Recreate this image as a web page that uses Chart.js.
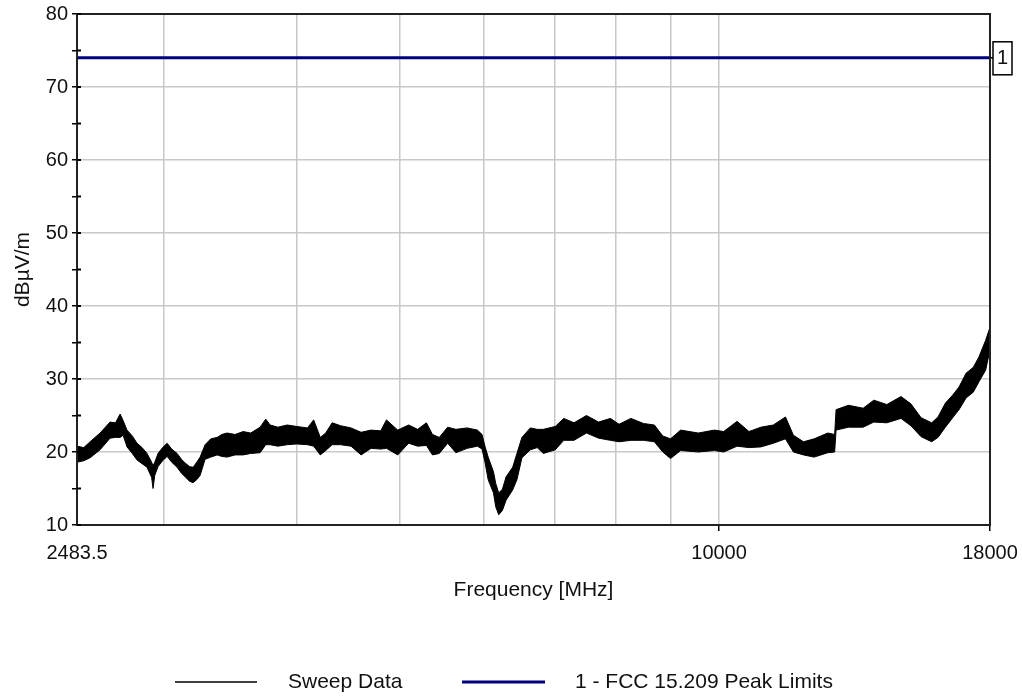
<!DOCTYPE html>
<html>
<head>
<meta charset="utf-8">
<script src="https://cdn.jsdelivr.net/npm/chart.js@4.4.1/dist/chart.umd.min.js"></script>
<style>
  html, body { margin: 0; padding: 0; background: #fff; }
  #wrap { width: 1022px; height: 696px; }
</style>
</head>
<body>
<div id="wrap"><canvas id="chart" width="1022" height="696"></canvas></div>
<script>
// Sweep data: frequency (MHz), top and bottom of the noise band (dBuV/m)
const sweepFreq = [
  2483.5, 2520, 2555, 2611, 2668, 2700, 2727, 2745, 2768, 2800,
  2829, 2860, 2891, 2920, 2929, 2940, 2961, 2990, 3020, 3050,
  3086, 3115, 3140, 3170, 3195, 3220, 3244, 3279, 3320, 3366,
  3400, 3439, 3500, 3561, 3620, 3695, 3740, 3776, 3840, 3918,
  4000, 4095, 4150, 4210, 4260, 4320, 4400, 4500, 4600, 4700,
  4800, 4860, 4980, 5100, 5200, 5300, 5370, 5450, 5550, 5650,
  5790, 5920, 5980, 6020, 6060, 6130, 6160, 6200, 6250, 6300,
  6390, 6450, 6520, 6640, 6740, 6830, 7010, 7140, 7300, 7500,
  7700, 7900, 8050, 8260, 8490, 8690, 8850, 9000, 9200, 9560,
  9900, 10100, 10400, 10670, 10950, 11250, 11550, 11750, 12010, 12290,
  12660, 12850, 12890, 13240, 13670, 13990, 14390, 14840, 15160, 15500,
  15860, 16080, 16340, 16600, 16830, 17090, 17360, 17570, 17830, 18000
];
const sweepHigh = [
  20.8, 20.6, 21.4, 22.6, 24.1, 24.0, 25.2, 24.3, 23.0, 22.2,
  21.2, 20.6, 19.8, 18.6, 18.1, 18.6, 19.8, 20.6, 21.2, 20.4,
  19.8, 19.0, 18.5, 18.0, 17.9, 18.6, 19.3, 21.0, 21.8, 22.0,
  22.4, 22.6, 22.4, 22.8, 22.6, 23.4, 24.5, 23.7, 23.4, 23.7,
  23.5, 23.3, 24.4, 22.0, 22.6, 24.0, 23.6, 23.3, 22.7, 23.0,
  22.9, 24.4, 23.0, 23.7, 23.1, 24.0, 22.4, 22.0, 23.4, 23.1,
  23.3, 23.0, 22.4, 20.7, 19.3, 17.3, 15.7, 14.4, 14.9, 16.6,
  17.9, 19.8, 22.0, 23.3, 23.1, 23.1, 23.5, 24.6, 24.0, 25.0,
  24.1, 24.6, 23.8, 24.6, 23.9, 23.7, 22.2, 21.8, 23.0, 22.6,
  23.0, 22.8, 24.2, 22.8, 23.4, 23.7, 24.8, 22.3, 21.4, 21.8,
  22.6, 22.4, 25.8, 26.4, 26.0, 27.1, 26.5, 27.6, 26.6, 24.7,
  24.0, 24.8, 26.7, 27.8, 28.9, 30.8, 31.6, 33.0, 35.3, 37.1
];
const sweepLow = [
  18.6, 18.8, 19.2, 20.3, 21.9, 22.0, 22.0, 22.3, 20.7, 19.8,
  18.9, 18.4, 17.9, 16.5, 15.0, 16.8, 18.0, 18.8, 19.4, 18.6,
  17.9, 17.1, 16.6, 16.0, 15.8, 16.2, 16.8, 19.0, 19.3, 19.6,
  19.4, 19.3, 19.6, 19.6, 19.8, 19.9, 21.0, 21.0, 20.8, 21.0,
  21.1, 21.0, 20.8, 19.6, 20.2, 21.0, 21.0, 20.8, 19.6, 20.5,
  20.4, 20.5, 19.6, 21.2, 20.8, 20.9, 19.6, 19.8, 21.2, 19.9,
  20.5, 20.8, 20.4, 18.5, 16.2, 14.4, 12.5, 11.4, 12.0, 13.4,
  14.8, 16.2, 19.2, 20.3, 20.6, 19.8, 20.3, 21.6, 21.6, 22.6,
  21.9, 21.6, 21.4, 21.6, 21.6, 21.4, 20.0, 19.1, 20.2, 20.0,
  20.2, 20.0, 20.8, 20.6, 20.7, 21.2, 21.8, 20.0, 19.6, 19.3,
  19.9, 20.0, 23.0, 23.4, 23.4, 24.1, 24.0, 24.6, 23.6, 22.1,
  21.4, 22.0, 23.4, 24.7, 25.8, 27.4, 28.2, 29.6, 31.2, 34.0
];

// FCC 15.209 peak limit
const limitFreq = [2483.5, 18000];
const limitLevel = [74, 74];

// axis ticks
const xTickValues = [2483.5, 3000, 4000, 5000, 6000, 7000, 8000, 9000, 10000, 18000];
const xTickLabels = ['2483.5', '', '', '', '', '', '', '', '10000', '18000'];
const yMin = 10, yMax = 80, yStep = 5, yLabelStep = 10;

const FONT = '"Liberation Sans", Arial, sans-serif';
const TEXT = '#111';
const GRID = '#c8c8c8';
const NAVY = '#000080';

const toPoints = (xs, ys) => xs.map((x, i) => ({ x: x, y: ys[i] }));

// frame, inner tick stubs, limit marker box and bottom legend
const decorations = {
  id: 'decorations',
  afterDraw(chart) {
    const { ctx, chartArea: a, scales } = chart;
    ctx.save();
    ctx.strokeStyle = '#222';
    ctx.lineWidth = 2;
    ctx.strokeRect(a.left, a.top, a.right - a.left, a.bottom - a.top);

    // y ticks cross the axis a little
    ctx.strokeStyle = '#000';
    ctx.lineWidth = 2;
    scales.y.ticks.forEach(t => {
      const py = scales.y.getPixelForValue(t.value);
      ctx.beginPath();
      ctx.moveTo(a.left, py);
      ctx.lineTo(a.left + 4, py);
      ctx.stroke();
    });

    // "1" marker for the limit line
    const ly = scales.y.getPixelForValue(limitLevel[limitLevel.length - 1]);
    ctx.lineWidth = 1.5;
    ctx.beginPath();
    ctx.moveTo(a.right, ly);
    ctx.lineTo(a.right + 3, ly);
    ctx.stroke();
    ctx.fillStyle = '#fff';
    ctx.fillRect(a.right + 3, ly - 16, 19, 33);
    ctx.strokeRect(a.right + 3, ly - 16, 19, 33);
    ctx.fillStyle = TEXT;
    ctx.font = '20px ' + FONT;
    ctx.textAlign = 'center';
    ctx.textBaseline = 'middle';
    ctx.fillText('1', a.right + 12.5, ly + 1);

    // legend
    const y = 682;
    ctx.font = '21px ' + FONT;
    ctx.textAlign = 'left';
    ctx.strokeStyle = '#000';
    ctx.lineWidth = 1.5;
    ctx.beginPath();
    ctx.moveTo(175, y);
    ctx.lineTo(257, y);
    ctx.stroke();
    ctx.fillText('Sweep Data', 288, y);
    ctx.strokeStyle = NAVY;
    ctx.lineWidth = 3;
    ctx.beginPath();
    ctx.moveTo(462, y);
    ctx.lineTo(545, y);
    ctx.stroke();
    ctx.fillText('1 - FCC 15.209 Peak Limits', 575, y);
    ctx.restore();
  }
};

new Chart(document.getElementById('chart'), {
  type: 'line',
  data: {
    datasets: [
      {
        label: '1 - FCC 15.209 Peak Limits',
        data: toPoints(limitFreq, limitLevel),
        borderColor: NAVY,
        borderWidth: 3,
        pointRadius: 0,
        fill: false
      },
      {
        label: 'Sweep Data',
        data: toPoints(sweepFreq, sweepHigh),
        borderColor: '#000',
        borderWidth: 1,
        pointRadius: 0,
        tension: 0,
        fill: false
      },
      {
        label: 'Sweep Data (low)',
        data: toPoints(sweepFreq, sweepLow),
        borderColor: '#000',
        borderWidth: 1,
        backgroundColor: '#000',
        pointRadius: 0,
        tension: 0,
        fill: '-1'
      }
    ]
  },
  options: {
    responsive: false,
    animation: false,
    devicePixelRatio: 1,
    layout: { padding: { top: 14, right: 32, left: 0, bottom: 90 } },
    plugins: {
      legend: { display: false },
      tooltip: { enabled: false }
    },
    scales: {
      x: {
        type: 'logarithmic',
        min: 2483.5,
        max: 18000,
        afterFit: (s) => { s.height = 81; s.paddingLeft = 0; s.paddingRight = 0; },
        afterBuildTicks: (s) => { s.ticks = xTickValues.map(v => ({ value: v })); },
        ticks: {
          autoSkip: false,
          maxRotation: 0,
          padding: 10,
          color: TEXT,
          font: { family: FONT, size: 20 },
          callback: (v) => {
            const i = xTickValues.indexOf(v);
            return i >= 0 ? xTickLabels[i] : '';
          }
        },
        grid: {
          color: (c) => (c.tick && c.tick.value > 2483.5 && c.tick.value <= 10000) ? GRID : 'rgba(0,0,0,0)',
          lineWidth: 1.5,
          tickLength: 6,
          tickColor: (c) => (c.tick && (c.tick.value === 10000 || c.tick.value === 18000)) ? '#000' : 'rgba(0,0,0,0)'
        },
        border: { color: '#222', width: 2 },
        title: {
          display: true,
          text: 'Frequency [MHz]',
          color: TEXT,
          font: { family: FONT, size: 21 },
          padding: { top: 0, bottom: 3 }
        }
      },
      y: {
        min: yMin,
        max: yMax,
        afterFit: (s) => { s.width = 77; s.paddingTop = 0; s.paddingBottom = 0; },
        ticks: {
          stepSize: yStep,
          padding: 4,
          color: TEXT,
          font: { family: FONT, size: 20 },
          callback: (v) => (v % yLabelStep === 0 ? v : '')
        },
        grid: {
          color: (c) => (c.tick && c.tick.value % yLabelStep === 0) ? GRID : 'rgba(0,0,0,0)',
          lineWidth: 1.5,
          tickLength: 5,
          tickColor: '#000'
        },
        border: { color: '#222', width: 2 },
        title: {
          display: true,
          text: 'dBµV/m',
          color: TEXT,
          font: { family: FONT, size: 21 },
          padding: { top: 11, bottom: 0 }
        }
      }
    }
  },
  plugins: [decorations]
});
</script>
</body>
</html>
